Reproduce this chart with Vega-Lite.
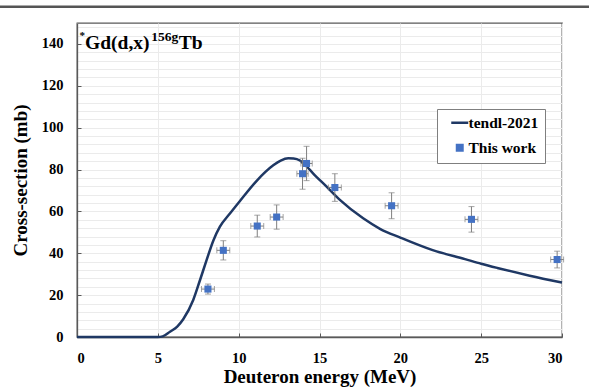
{
  "$schema": "https://vega.github.io/schema/vega-lite/v6.json",
  "width": 485,
  "height": 314,
  "autosize": "none",
  "padding": {"left": 77, "top": 23, "right": 27, "bottom": 50},
  "background": "white",
  "config": {
    "font": "Liberation Serif",
    "view": {"stroke": "#595959", "strokeWidth": 1.3},
    "axis": {
      "labelFont": "Liberation Serif",
      "labelFontSize": 14.5,
      "labelFontWeight": "bold",
      "labelColor": "black",
      "titleFont": "Liberation Serif",
      "titleFontSize": 19,
      "titleFontWeight": "bold",
      "titleColor": "black",
      "domainColor": "#595959",
      "domainWidth": 1.3,
      "tickColor": "#595959",
      "tickSize": -4,
      "gridColor": "#ebebeb",
      "gridWidth": 1
    }
  },
  "datasets": {
    "tendl": [
      {"energy": 0, "xs": 0},
      {"energy": 5, "xs": 0},
      {"energy": 5.3, "xs": 0.3},
      {"energy": 5.75, "xs": 2.5},
      {"energy": 6.2, "xs": 5},
      {"energy": 6.57, "xs": 8.5},
      {"energy": 7.19, "xs": 17.7},
      {"energy": 7.6, "xs": 27},
      {"energy": 8.02, "xs": 36.8},
      {"energy": 8.43, "xs": 46},
      {"energy": 8.84, "xs": 52.7},
      {"energy": 9.46, "xs": 59},
      {"energy": 10.08, "xs": 65},
      {"energy": 11.1, "xs": 74.5},
      {"energy": 12.14, "xs": 82},
      {"energy": 12.6, "xs": 84.3},
      {"energy": 13.07, "xs": 85.4},
      {"energy": 13.4, "xs": 85.3},
      {"energy": 13.79, "xs": 84.3},
      {"energy": 14.2, "xs": 81.5},
      {"energy": 14.6, "xs": 78.2},
      {"energy": 15.44, "xs": 71.8},
      {"energy": 16.26, "xs": 65.5},
      {"energy": 17.7, "xs": 56.7},
      {"energy": 18.74, "xs": 51.7},
      {"energy": 20, "xs": 47.5},
      {"energy": 22, "xs": 41.5},
      {"energy": 24, "xs": 37.2},
      {"energy": 25, "xs": 35},
      {"energy": 26, "xs": 33},
      {"energy": 28, "xs": 29.3},
      {"energy": 30, "xs": 26}
    ],
    "exp": [
      {"energy": 8.1, "dE": 0.4, "xs": 22.9, "dxs": 2.4},
      {"energy": 9.05, "dE": 0.4, "xs": 41.4, "dxs": 4.6},
      {"energy": 11.15, "dE": 0.4, "xs": 53, "dxs": 5.2},
      {"energy": 12.35, "dE": 0.4, "xs": 57.3, "dxs": 5.8},
      {"energy": 13.95, "dE": 0.35, "xs": 78, "dxs": 7.4},
      {"energy": 14.2, "dE": 0.35, "xs": 82.9, "dxs": 8.2},
      {"energy": 15.95, "dE": 0.4, "xs": 71.4, "dxs": 6.6},
      {"energy": 19.46, "dE": 0.4, "xs": 62.7, "dxs": 6.2},
      {"energy": 24.4, "dE": 0.4, "xs": 56.2, "dxs": 6.1},
      {"energy": 29.7, "dE": 0.4, "xs": 37, "dxs": 4}
    ],
    "label": [
      {"part": "*", "energy": 0.15, "xs": 142.4, "size": 11},
      {"part": "Gd(d,x)", "energy": 0.5, "xs": 137.8, "size": 19.5},
      {"part": "156g", "energy": 4.6, "xs": 141.6, "size": 13.5},
      {"part": "Tb", "energy": 6.3, "xs": 137.8, "size": 19.5}
    ],
    "separator": [
      {"from": -4.8, "to": 31.7, "level": 157.8}
    ]
  },
  "encoding": {
    "x": {
      "field": "energy", "type": "quantitative",
      "title": "Deuteron energy (MeV)",
      "scale": {"domain": [0, 30], "nice": false},
      "axis": {"values": [0, 5, 10, 15, 20, 25, 30], "labelPadding": 18, "titleY": 45.5, "titleBaseline": "alphabetic"}
    },
    "y": {
      "field": "xs", "type": "quantitative",
      "title": "Cross-section (mb)",
      "scale": {"domain": [0, 150], "nice": false},
      "axis": {
        "values": [0, 4, 8, 12, 16, 20, 24, 28, 32, 36, 40, 44, 48, 52, 56, 60, 64, 68, 72, 76, 80, 84, 88, 92, 96, 100, 104, 108, 112, 116, 120, 124, 128, 132, 136, 140, 144, 148],
        "labelExpr": "datum.value % 20 === 0 ? datum.label : ''",
        "tickOpacity": {"condition": {"test": "datum.value % 20 === 0", "value": 1}, "value": 0},
        "labelPadding": 18,
        "titleX": -51,
        "titleBaseline": "alphabetic"
      }
    }
  },
  "layer": [
    {
      "data": {"name": "tendl"},
      "mark": {"type": "line", "interpolate": "monotone", "strokeWidth": 2.5},
      "encoding": {
        "color": {
          "datum": "tendl-2021",
          "scale": {"domain": ["tendl-2021", "This work"], "range": ["#1F3864", "#4472C4"]},
          "legend": {
            "title": null,
            "orient": "none",
            "legendX": 360,
            "legendY": 86,
            "padding": 6,
            "symbolOffset": 9,
            "strokeColor": "#7f7f7f",
            "fillColor": "white",
            "labelFont": "Liberation Serif",
            "labelFontSize": 15.5,
            "labelFontWeight": "bold",
            "labelColor": "black",
            "labelOffset": 1,
            "rowPadding": 8,
            "symbolSize": 289,
            "encode": {
              "symbols": {
                "update": {
                  "shape": {"signal": "datum.value === 'tendl-2021' ? 'stroke' : 'square'"},
                  "size": {"signal": "datum.value === 'tendl-2021' ? 289 : 30"},
                  "fill": {"signal": "datum.value === 'tendl-2021' ? 'transparent' : '#4472C4'"},
                  "stroke": {"signal": "datum.value === 'tendl-2021' ? '#1F3864' : 'transparent'"},
                  "strokeWidth": {"value": 2.5},
                  "opacity": {"value": 1}
                }
              }
            }
          }
        }
      }
    },
    {
      "data": {"name": "exp"},
      "mark": {"type": "errorbar", "color": "#7f7f7f", "thickness": 1, "ticks": {"size": 6, "color": "#7f7f7f"}},
      "encoding": {
        "yError": {"field": "dxs"}
      }
    },
    {
      "data": {"name": "exp"},
      "mark": {"type": "errorbar", "color": "#7f7f7f", "thickness": 1, "ticks": {"size": 6, "color": "#7f7f7f"}},
      "encoding": {
        "xError": {"field": "dE"}
      }
    },
    {
      "data": {"name": "exp"},
      "mark": {"type": "point", "shape": "square", "filled": true, "size": 50, "opacity": 1},
      "encoding": {
        "color": {"datum": "This work"}
      }
    },
    {
      "data": {"name": "label"},
      "mark": {"type": "text", "align": "left", "baseline": "alphabetic", "fontWeight": "bold", "font": "Liberation Serif", "color": "black"},
      "encoding": {
        "text": {"field": "part"},
        "size": {"field": "size", "type": "quantitative", "scale": null}
      }
    },
    {
      "data": {"name": "separator"},
      "mark": {"type": "rule", "clip": false, "color": "#555555", "strokeWidth": 2.5},
      "encoding": {
        "x": {"field": "from", "type": "quantitative"},
        "x2": {"field": "to"},
        "y": {"field": "level", "type": "quantitative"}
      }
    }
  ]
}
